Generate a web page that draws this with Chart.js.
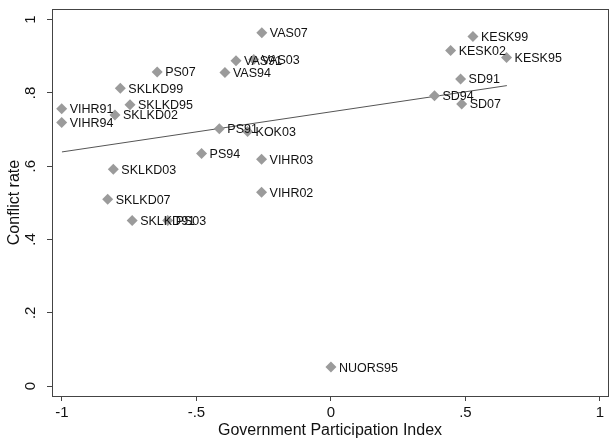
<!DOCTYPE html>
<html>
<head>
<meta charset="utf-8">
<script src="https://cdn.jsdelivr.net/npm/chart.js@4/dist/chart.umd.min.js"></script>
<style>
  html, body { margin: 0; padding: 0; background: #fff; }
  #wrap { width: 614px; height: 442px; }
</style>
</head>
<body>
<div id="wrap"><canvas id="myChart" width="614" height="442"></canvas></div>
<script>
// party-election labels and their values
const parties = ['VAS07', 'VAS91', 'VAS03', 'VAS94', 'PS07', 'SKLKD99', 'SKLKD95', 'SKLKD02',
  'VIHR91', 'VIHR94', 'PS91', 'KOK03', 'PS94', 'VIHR03', 'SKLKD03', 'SKLKD07', 'VIHR02',
  'SKLKD91', 'PS03', 'KESK99', 'KESK02', 'KESK95', 'SD91', 'SD94', 'SD07', 'NUORS95'];
const participation = [-0.257, -0.353, -0.287, -0.394, -0.646, -0.783, -0.747, -0.803,
  -1.001, -1.001, -0.415, -0.310, -0.481, -0.258, -0.809, -0.830, -0.258,
  -0.739, -0.607, 0.528, 0.445, 0.653, 0.482, 0.385, 0.486, 0.0];
const conflict = [0.964, 0.888, 0.891, 0.856, 0.857, 0.813, 0.768, 0.740,
  0.757, 0.719, 0.702, 0.695, 0.635, 0.619, 0.592, 0.510, 0.529,
  0.452, 0.452, 0.954, 0.916, 0.897, 0.838, 0.792, 0.770, 0.052];

// fitted line end points
const fitX = [-1, 0.654];
const fitY = [0.639, 0.820];

const xTicks = [-1, -0.5, 0, 0.5, 1];
const xTickLabels = ['-1', '-.5', '0', '.5', '1'];
const yTicks = [0, 0.2, 0.4, 0.6, 0.8, 1];
const yTickLabels = ['0', '.2', '.4', '.6', '.8', '1'];

const fontFam = '"Liberation Sans", Arial, Helvetica, sans-serif';

const frame = {
  id: 'frame',
  afterDatasetsDraw(chart) {
    const a = chart.chartArea;
    const c = chart.ctx;
    c.save();
    c.strokeStyle = '#444';
    c.lineWidth = 1;
    c.strokeRect(a.left + 0.5, a.top + 0.5, a.right - a.left, a.bottom - a.top);
    c.restore();
  }
};

const pointLabels = {
  id: 'pointLabels',
  afterDatasetsDraw(chart) {
    const c = chart.ctx;
    const meta = chart.getDatasetMeta(0);
    c.save();
    c.font = '12.5px ' + fontFam;
    c.fillStyle = '#111';
    c.textBaseline = 'middle';
    c.textAlign = 'left';
    meta.data.forEach((pt, i) => {
      c.fillText(parties[i], pt.x + 8, pt.y + 1);
    });
    c.restore();
  }
};

const ctx = document.getElementById('myChart').getContext('2d');
const myChart = new Chart(ctx, {
  type: 'scatter',
  data: {
    datasets: [{
      label: 'Conflict rate',
      data: participation.map((v, i) => ({ x: v, y: conflict[i] })),
      pointStyle: 'rectRot',
      radius: 5.5,
      hoverRadius: 5.5,
      backgroundColor: '#9b9b9b',
      borderColor: '#9b9b9b',
      borderWidth: 0
    }, {
      type: 'line',
      label: 'Fitted values',
      data: fitX.map((v, i) => ({ x: v, y: fitY[i] })),
      borderColor: '#555',
      borderWidth: 1,
      pointRadius: 0,
      fill: false
    }]
  },
  options: {
    responsive: false,
    animation: false,
    events: [],
    layout: { padding: { left: 0, top: 9, right: 6, bottom: 0 } },
    plugins: {
      legend: { display: false },
      tooltip: { enabled: false }
    },
    scales: {
      x: {
        type: 'linear',
        min: -1.037,
        max: 1.030,
        afterBuildTicks: (s) => { s.ticks = xTicks.map(v => ({ value: v })); },
        afterFit: (s) => {
          s.height = 46;
          s.paddingLeft = 0;
          s.paddingRight = 0;
        },
        ticks: {
          color: '#111',
          font: { family: fontFam, size: 15 },
          padding: 3,
          callback: (v) => xTickLabels[xTicks.indexOf(v)]
        },
        grid: { drawOnChartArea: false, drawTicks: true, tickLength: 5, color: '#444' },
        border: { color: '#444' },
        title: {
          display: true,
          text: 'Government Participation Index',
          color: '#111',
          font: { family: fontFam, size: 16 },
          padding: { top: 0, bottom: 2 }
        }
      },
      y: {
        type: 'linear',
        min: -0.027,
        max: 1.029,
        afterBuildTicks: (s) => { s.ticks = yTicks.map(v => ({ value: v })); },
        afterFit: (s) => {
          s.width = 52;
          s.paddingTop = 0;
          s.paddingBottom = 0;
        },
        ticks: {
          color: '#111',
          font: { family: fontFam, size: 15 },
          padding: 10,
          crossAlign: 'center',
          minRotation: 90,
          maxRotation: 90,
          callback: (v) => yTickLabels[yTicks.indexOf(v)]
        },
        grid: { drawOnChartArea: false, drawTicks: true, tickLength: 5, color: '#444' },
        border: { color: '#444' },
        title: {
          display: true,
          text: 'Conflict rate',
          color: '#111',
          font: { family: fontFam, size: 16 },
          padding: { top: 5, bottom: 0 }
        }
      }
    }
  },
  plugins: [frame, pointLabels]
});
</script>
</body>
</html>
